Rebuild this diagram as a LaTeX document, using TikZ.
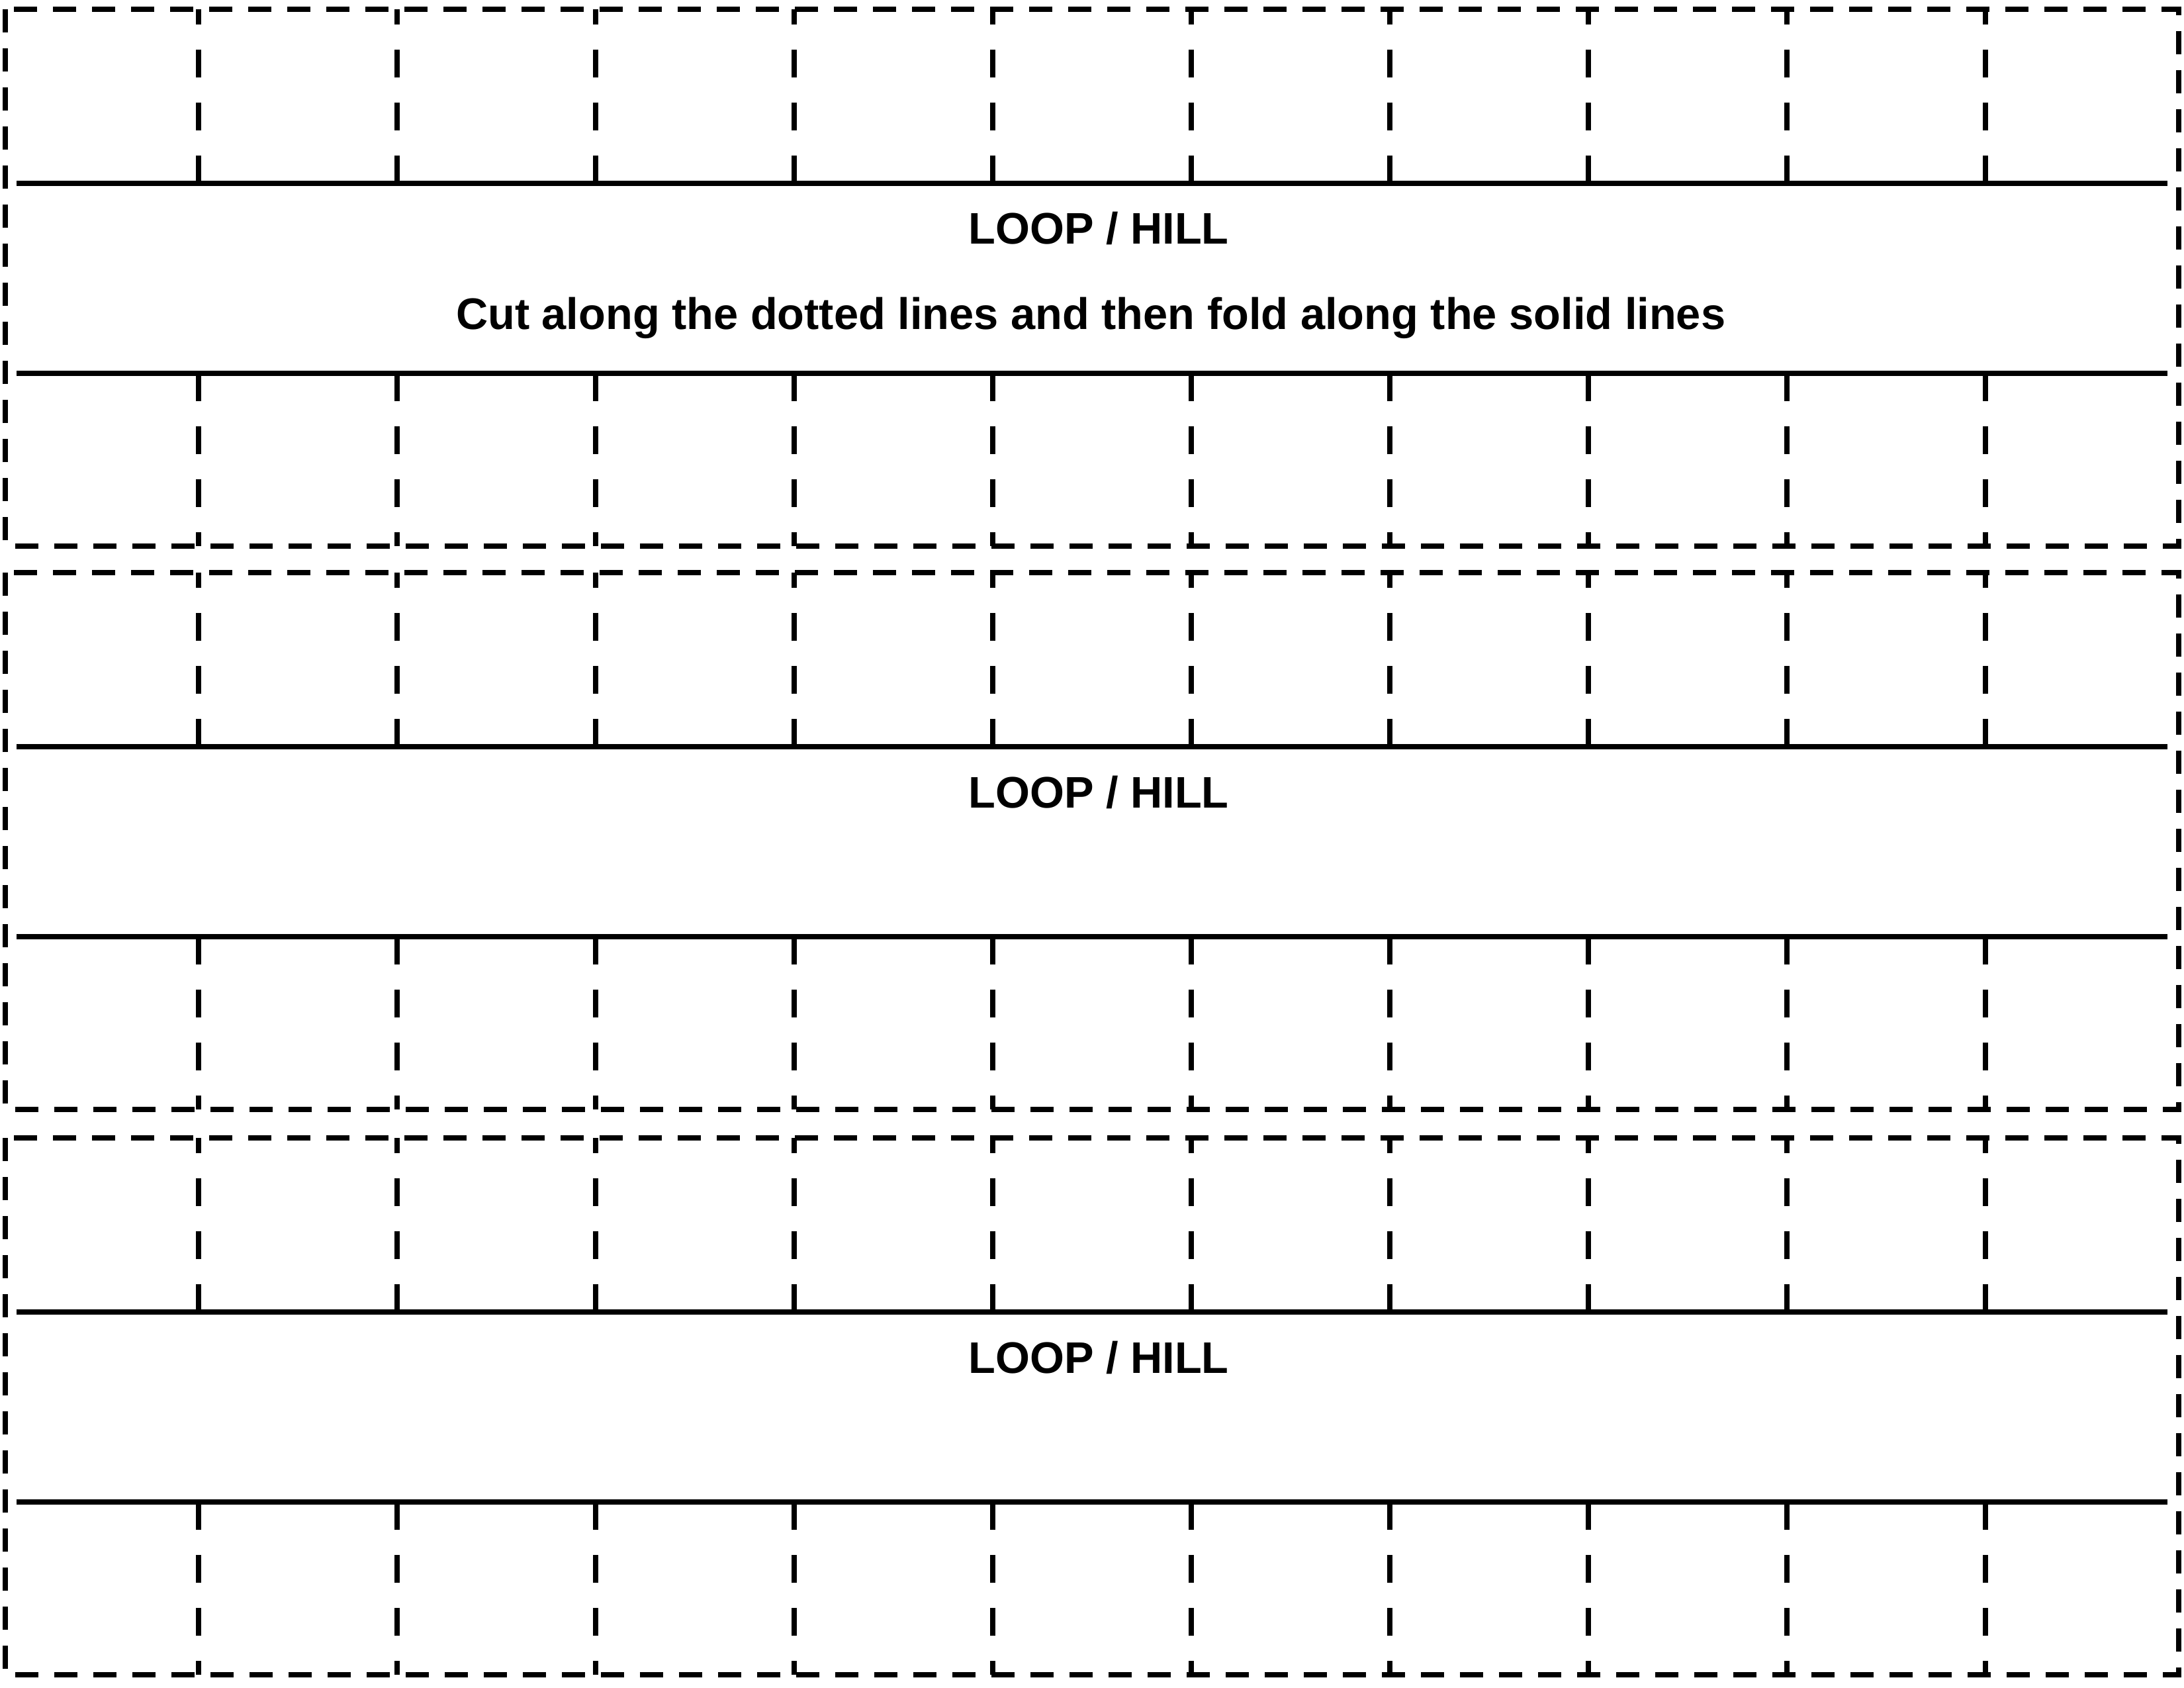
\documentclass[tikz,border=0pt]{standalone}
\usepackage{fontspec}
\setmainfont{Liberation Sans}
\begin{document}
\begin{tikzpicture}[cut/.style={line width=0.085cm,dash pattern=on 0.35cm off 0.24cm},
		tab/.style={line width=0.085cm,dash pattern=on 0.42cm off 0.38cm},
		fold/.style={line width=0.085cm},
		lbl/.style={font=\bfseries\fontsize{19}{22}\selectfont,inner sep=0pt,anchor=base}]
	\useasboundingbox (0,0) rectangle (33,-25.5);
	\foreach \t [count=\i] in {-0.14,-8.65,-17.19}{
		\draw[cut] (0.08,\t) rectangle (32.92,\t-8.11);
		\draw[fold] (0.25,\t-2.63) -- (32.75,\t-2.63) (0.25,\t-5.5) -- (32.75,\t-5.5);
		\foreach \x in {3,6,...,30}
			\draw[tab] (\x,\t-2.63) -- (\x,\t) (\x,\t-5.5) -- (\x,\t-8.11);
		\node[lbl] (loop\i) at (16.6,\t-3.55) {LOOP / HILL};
	}
	\node[lbl] (note) at (16.48,-4.98) {Cut along the dotted lines and then fold along the solid lines};
\end{tikzpicture}
\end{document}
